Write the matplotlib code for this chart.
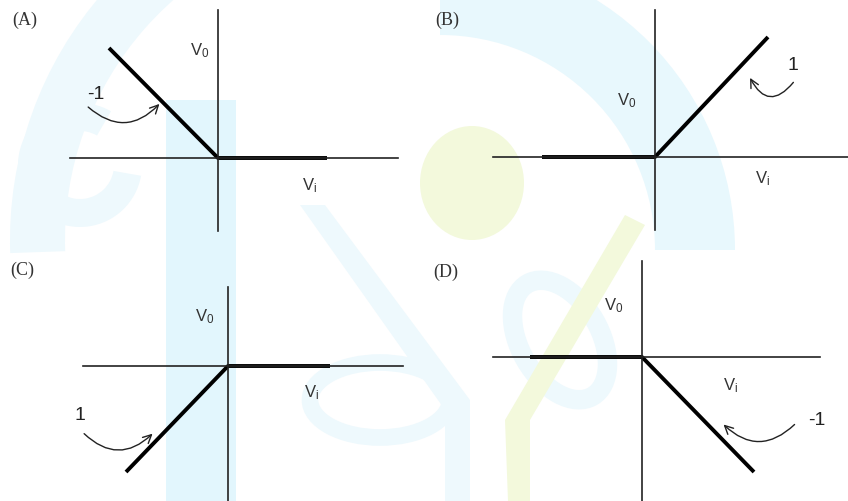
import matplotlib.pyplot as plt
import matplotlib.patches as patches

plt.rcParams['font.family'] = ['Liberation Sans', 'DejaVu Sans']

# dados de cada painel: pontos da caracteristica (vi, vo)
panel_names = ['(A)', '(B)', '(C)', '(D)']
vi_A, vo_A = [-1, 0, 1], [1, 0, 0]
vi_B, vo_B = [-1, 0, 1], [0, 0, 1]
vi_C, vo_C = [-1, 0, 1], [-1, 0, 0]
vi_D, vo_D = [-1, 0, 1], [0, 0, -1]
slope_labels = ['-1', '1', '1', '-1']

W, H = 848, 501
fig = plt.figure(figsize=(W / 100, H / 100), dpi=100)

# marca d'agua (fundo) em pixels, y para cima
bg = fig.add_axes([0, 0, 1, 1])
bg.set_xlim(0, W)
bg.set_ylim(0, H)
bg.axis('off')
cyan = '#e2f6fd'
cyan2 = '#eef9fd'
lime = '#f3f9dc'
# arco grande (lado esquerdo) e faixa do painel B
bg.add_patch(patches.Wedge((385, H - 240), 375, 95, 182, width=55, color=cyan2, lw=0))
bg.add_patch(patches.Wedge((440, H - 250), 295, 0, 90, width=80, color='#e8f8fd', lw=0))
# espiral no canto superior esquerdo
bg.add_patch(patches.Wedge((80, H - 165), 62, 60, 350, width=28, color=cyan2, lw=0))
# haste vertical
bg.add_patch(patches.Rectangle((166, 0), 70, H - 100, color=cyan, lw=0))
# diagonal e laço
bg.add_patch(patches.Polygon([(300, H - 205), (325, H - 205), (470, H - 400), (470, 0),
                              (445, 0), (445, H - 410)], closed=True, color=cyan2, lw=0))
bg.add_patch(patches.Ellipse((380, H - 400), 140, 75, fill=False, ec=cyan2, lw=12))
bg.add_patch(patches.Ellipse((560, H - 340), 80, 130, angle=30, fill=False, ec=cyan2, lw=14))
# circulo e traço verde-limão
bg.add_patch(patches.Ellipse((472, H - 183), 104, 114, color=lime, lw=0))
bg.add_patch(patches.Polygon([(625, H - 215), (645, H - 225), (530, H - 420), (530, 0),
                              (508, 0), (505, H - 420)], closed=True, color=lime, lw=0))

# posicao dos eixos em pixels: (x0, x1, y0_topo, y1_base), origem, escala
panels = [
    dict(box=(70, 398, 10, 231), origin=(218, 158), ux=109, uy=110, vi=vi_A, vo=vo_A,
         tag=(25, 20), v0=(-0.17, 0.98), vi_lab=(0.84, -0.25),
         arrow=((-1.21, 0.48), (-0.52, 0.51)), rad=0.5, lab=(-1.12, 0.58)),
    dict(box=(493, 848, 10, 230), origin=(655, 157), ux=113, uy=120, vi=vi_B, vo=vo_B,
         tag=(447, 20), v0=(-0.25, 0.47), vi_lab=(0.95, -0.18),
         arrow=((1.24, 0.64), (0.83, 0.68)), rad=-0.8, lab=(1.22, 0.76)),
    dict(box=(83, 403, 287, 501), origin=(228, 366), ux=102, uy=106, vi=vi_C, vo=vo_C,
         tag=(22, 270), v0=(-0.23, 0.47), vi_lab=(0.82, -0.25),
         arrow=((-1.43, -0.62), (-0.72, -0.62)), rad=0.5, lab=(-1.45, -0.47)),
    dict(box=(493, 820, 261, 501), origin=(642, 357), ux=112, uy=115, vi=vi_D, vo=vo_D,
         tag=(446, 272), v0=(-0.25, 0.45), vi_lab=(0.79, -0.25),
         arrow=((1.38, -0.57), (0.71, -0.57)), rad=-0.5, lab=(1.56, -0.55)),
]

for name, lab_txt, p in zip(panel_names, slope_labels, panels):
    x0, x1, yt, yb = p['box']
    ox, oy = p['origin']
    ax = fig.add_axes([x0 / W, (H - yb) / H, (x1 - x0) / W, (yb - yt) / H])
    ax.set_xlim(-(ox - x0) / p['ux'], (x1 - ox) / p['ux'])
    ax.set_ylim(-(yb - oy) / p['uy'], (oy - yt) / p['uy'])
    ax.patch.set_alpha(0)
    for s in ['top', 'right']:
        ax.spines[s].set_visible(False)
    ax.spines['left'].set_position('zero')
    ax.spines['bottom'].set_position('zero')
    ax.spines['left'].set_linewidth(1.2)
    ax.spines['bottom'].set_linewidth(1.2)
    ax.spines['left'].set_color('#222222')
    ax.spines['bottom'].set_color('#222222')
    ax.set_xticks([])
    ax.set_yticks([])

    ax.plot(p['vi'], p['vo'], color='black', lw=2.8, solid_capstyle='butt', clip_on=False)

    ax.text(*p['v0'], r'$\mathregular{V_0}$', fontsize=12, color='#333333',
            ha='center', va='center')
    ax.text(*p['vi_lab'], r'$\mathregular{V_i}$', fontsize=12, color='#333333',
            ha='center', va='center')
    ax.text(*p['lab'], lab_txt, fontsize=14, color='#222222', ha='center', va='center')

    a0, a1 = p['arrow']
    arr = patches.FancyArrowPatch(a0, a1, connectionstyle=f'arc3,rad={p["rad"]}',
                                  arrowstyle='->,head_length=6,head_width=3',
                                  color='#222222', lw=1.0, clip_on=False)
    ax.add_patch(arr)

    fig.text(p['tag'][0] / W, 1 - p['tag'][1] / H, name, fontsize=13,
             family='Liberation Serif', color='#333333', ha='center', va='center')

fig.savefig('out.png', dpi=100)
